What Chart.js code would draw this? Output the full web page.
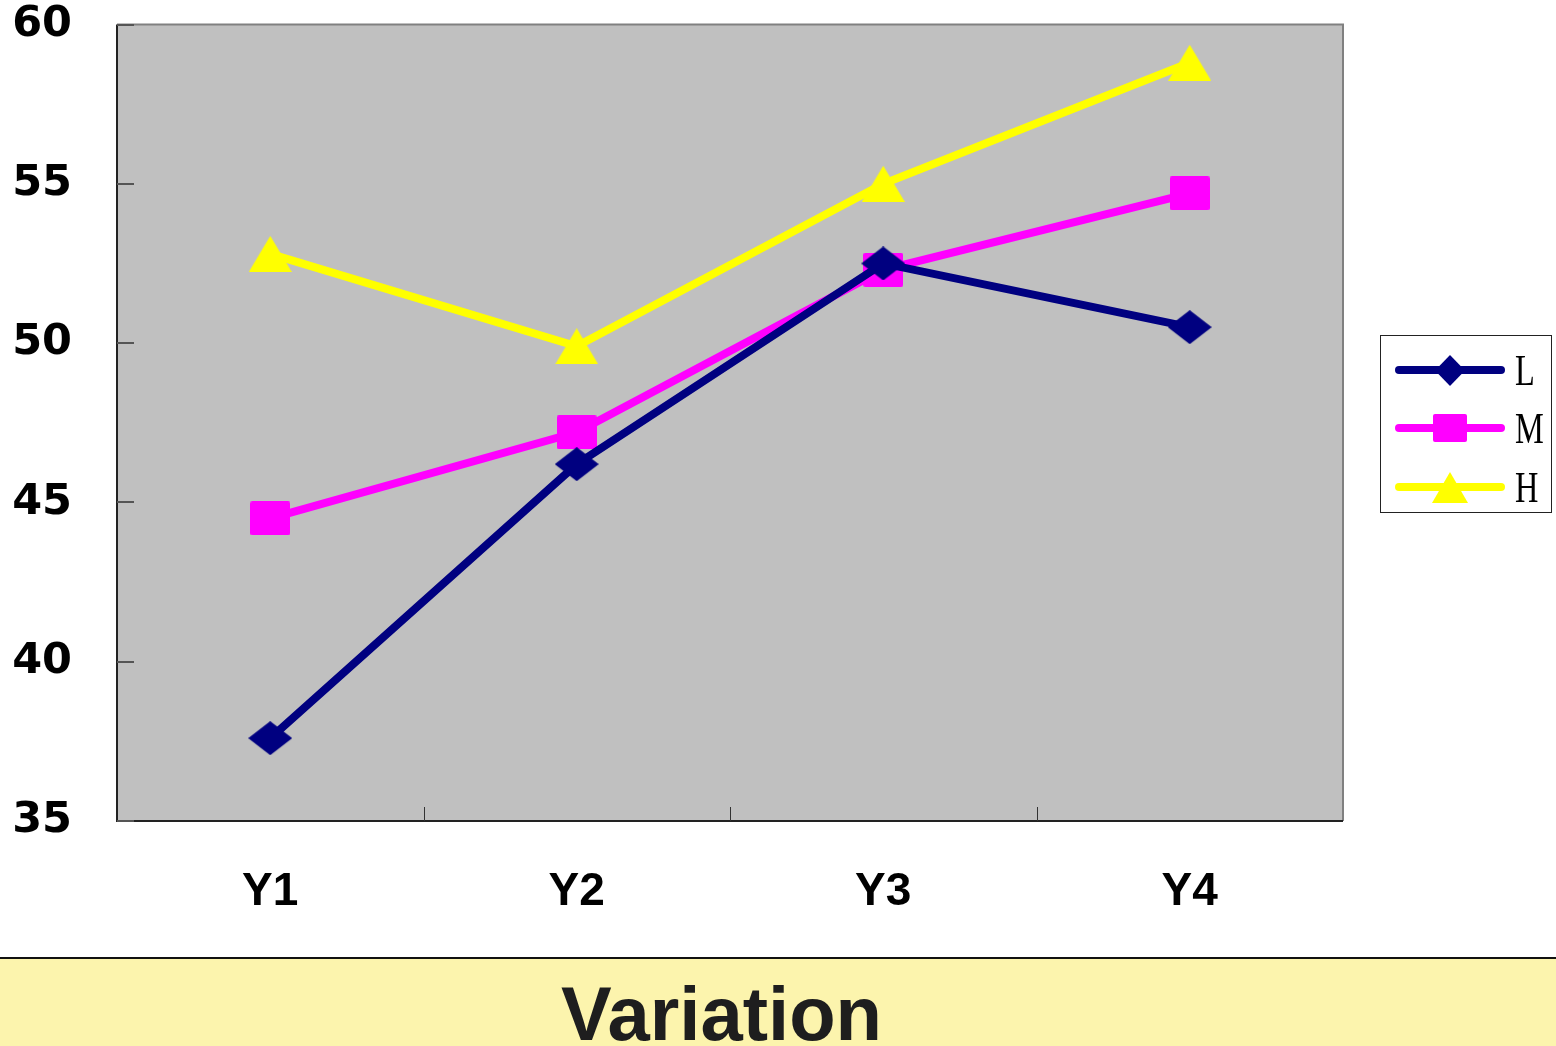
<!DOCTYPE html>
<html><head><meta charset="utf-8">
<script src="https://cdn.jsdelivr.net/npm/chart.js@4/dist/chart.umd.min.js"></script>
<style>
html,body{margin:0;padding:0;background:#fff;overflow:hidden;width:1556px;height:1046px;}
#wrap{position:absolute;left:0;top:0;width:1556px;height:958px;}
#band{position:absolute;left:0;top:957px;width:1556px;height:89px;background:#FCF4AD;border-top:2px solid #111;box-sizing:border-box;overflow:hidden;}
#title{position:absolute;left:0;top:17px;width:1443px;text-align:center;font:bold 76px "Liberation Sans",Arial,sans-serif;line-height:76px;color:#1e1e1e;}
</style></head><body>
<div id="wrap"><canvas id="c" width="1556" height="958"></canvas></div>
<div id="band"><div id="title">Variation</div></div>
<script>
const categories = ['Y1', 'Y2', 'Y3', 'Y4'];
const seriesNames = ['L', 'M', 'H'];
const valuesL = [37.6, 46.2, 52.5, 50.5];
const valuesM = [44.5, 47.2, 52.3, 54.7];
const valuesH = [52.8, 49.9, 55.0, 58.8];
const yMin = 35, yMax = 60, yStep = 5;

const colors = ['#000080', '#FF00FF', '#FFFF00'];

function mk(w, h, draw) {
  const c = document.createElement('canvas');
  c.width = w; c.height = h;
  const g = c.getContext('2d');
  draw(g, w, h);
  return c;
}
function diamond(w, h, col) {
  return mk(w, h, (g) => { g.fillStyle = col; g.beginPath(); g.moveTo(w/2, 0); g.lineTo(w, h/2); g.lineTo(w/2, h); g.lineTo(0, h/2); g.closePath(); g.fill(); });
}
function square(w, h, col) {
  return mk(w, h, (g) => { g.fillStyle = col; g.beginPath(); if (g.roundRect) g.roundRect(0, 0, w, h, 2); else g.rect(0, 0, w, h); g.fill(); });
}
function triangle(w, h, col) {
  return mk(w, h, (g) => { g.fillStyle = col; g.beginPath(); g.moveTo(w/2, 0); g.lineTo(w, h); g.lineTo(0, h); g.closePath(); g.fill(); });
}
const markers = [diamond(44, 34, colors[0]), square(40, 34, colors[1]), triangle(43, 36, colors[2])];
const legendMarkers = [diamond(30, 31, colors[0]), square(34, 28, colors[1]), triangle(36, 31, colors[2])];

const plotDeco = {
  id: 'plotDeco',
  beforeDraw(chart) {
    const a = chart.chartArea, ctx = chart.ctx;
    ctx.save();
    ctx.fillStyle = '#C0C0C0';
    ctx.fillRect(a.left, a.top, a.right - a.left, a.bottom - a.top);
    ctx.restore();
  },
  beforeDatasetsDraw(chart) {
    const a = chart.chartArea, ctx = chart.ctx;
    const ys = chart.scales.y, xs = chart.scales.x;
    ctx.save();
    ctx.lineWidth = 2;
    ctx.strokeStyle = '#808080';
    ctx.beginPath(); ctx.moveTo(a.left, a.top); ctx.lineTo(a.right, a.top); ctx.lineTo(a.right, a.bottom); ctx.stroke();
    ctx.strokeStyle = '#222';
    ctx.beginPath(); ctx.moveTo(a.left, a.top); ctx.lineTo(a.left, a.bottom); ctx.lineTo(a.right, a.bottom); ctx.stroke();
    ctx.strokeStyle = '#555';
    ctx.lineWidth = 2;
    ys.ticks.forEach((t) => {
      const y = Math.round(ys.getPixelForValue(t.value));
      ctx.beginPath(); ctx.moveTo(a.left, y); ctx.lineTo(a.left + 17, y); ctx.stroke();
    });
    ctx.strokeStyle = '#333';
    ctx.lineWidth = 1;
    for (let i = 0; i < categories.length - 1; i++) {
      const x = Math.round((xs.getPixelForTick(i) + xs.getPixelForTick(i + 1)) / 2) + 0.5;
      ctx.beginPath(); ctx.moveTo(x, a.bottom - 14); ctx.lineTo(x, a.bottom); ctx.stroke();
    }
    ctx.restore();
  },
  afterDraw(chart) {
    const ctx = chart.ctx;
    ctx.save();
    const bx = 1380.5, by = 335.5, bw = 171, bh = 177;
    ctx.strokeStyle = '#222';
    ctx.lineWidth = 1;
    ctx.strokeRect(bx, by, bw, bh);
    const rows = [370, 428, 487];
    chart.data.datasets.forEach((ds, i) => {
      const y = rows[i];
      ctx.strokeStyle = ds.borderColor;
      ctx.lineWidth = 8;
      ctx.lineCap = 'round';
      ctx.beginPath(); ctx.moveTo(1399, y); ctx.lineTo(1501, y); ctx.stroke();
      const m = legendMarkers[i];
      ctx.drawImage(m, Math.round(1450 - m.width / 2), Math.round(y - m.height / 2));
      ctx.save();
      ctx.fillStyle = '#000';
      ctx.font = '45px "Liberation Serif", "Times New Roman", serif';
      ctx.textBaseline = 'alphabetic';
      ctx.translate(1515, y + 15);
      ctx.scale(0.72, 1);
      ctx.fillText(ds.label, 0, 0);
      ctx.restore();
    });
    ctx.restore();
  }
};

const seriesValues = [valuesL, valuesM, valuesH];
const datasets = seriesNames.map((name, i) => ({
  label: name,
  data: seriesValues[i],
  borderColor: colors[i],
  backgroundColor: colors[i],
  borderWidth: 8,
  pointStyle: markers[i],
  pointRadius: 20,
  tension: 0,
  fill: false,
  clip: false
}));

const xFont = { family: '"Liberation Sans", Arial, sans-serif', size: 46, weight: 'bold' };
const yFont = { family: '"DejaVu Sans", sans-serif', size: 43, weight: 'bold', lineHeight: 0.9 };

new Chart(document.getElementById('c'), {
  type: 'line',
  data: { labels: categories, datasets },
  plugins: [plotDeco],
  options: {
    responsive: false,
    animation: false,
    events: [],
    layout: { autoPadding: false, padding: { left: 0, right: 213, top: 24.5, bottom: 0 } },
    plugins: { legend: { display: false }, tooltip: { enabled: false }, title: { display: false } },
    scales: {
      x: {
        type: 'category',
        offset: true,
        grid: { display: false, offset: true },
        border: { display: false },
        ticks: { font: xFont, color: '#000', padding: 36, maxRotation: 0, autoSkip: false },
        afterFit(s) { s.height = 137; s.paddingLeft = 0; s.paddingRight = 0; }
      },
      y: {
        min: yMin, max: yMax,
        grid: { display: false, drawTicks: false },
        border: { display: false },
        ticks: { stepSize: yStep, font: yFont, color: '#000', padding: 45 },
        afterFit(s) { s.width = 117; s.paddingTop = 0; s.paddingBottom = 0; }
      }
    }
  }
});
</script>
</body></html>
